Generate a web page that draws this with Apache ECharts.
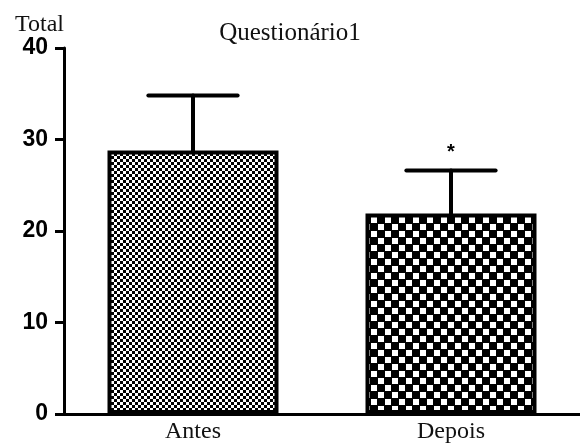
<!DOCTYPE html>
<html>
<head>
<meta charset="utf-8">
<script src="https://cdn.jsdelivr.net/npm/echarts@6/dist/echarts.min.js"></script>
<style>
  html, body { margin: 0; padding: 0; background: #fff; }
  #chart { width: 580px; height: 446px; }
</style>
</head>
<body>
<div id="chart"></div>
<script>
// Questionnaire total score, before and after (mean ± error)
const categories = ['Antes', 'Depois'];
const means = [28.8, 21.9];
const errors = [6.0, 4.7];
const significance = ['', '*'];
const yTicks = { min: 0, max: 40, interval: 10 };

// Checkerboard fill used inside each bar
function checker(period, cell) {
  const c = document.createElement('canvas');
  c.width = period; c.height = period;
  const g = c.getContext('2d');
  g.fillStyle = '#000';
  g.fillRect(0, 0, period, period);
  g.fillStyle = '#fff';
  const h = period / 2;
  g.fillRect(0, 0, cell, cell);
  g.fillRect(h, h, cell, cell);
  return { image: c, repeat: 'repeat' };
}
const fills = [checker(6, 3), checker(14, 6)];

const serif = '"Liberation Serif", "Times New Roman", serif';
const sans = '"Liberation Sans", Arial, sans-serif';

const chart = echarts.init(document.getElementById('chart'), null, { renderer: 'canvas' });

chart.setOption({
  animation: false,
  backgroundColor: '#fff',
  title: {
    text: 'Questionário1',
    left: 'center',
    top: 16,
    textStyle: { fontFamily: serif, fontWeight: 'normal', fontSize: 25, color: '#111' }
  },
  grid: { left: 64, top: 48, width: 519, height: 366, containLabel: false },
  xAxis: {
    type: 'category',
    data: categories,
    axisLine: { lineStyle: { color: '#000', width: 3 } },
    axisTick: { alignWithLabel: true, length: 7, lineStyle: { color: '#000', width: 2 } },
    axisLabel: { fontFamily: serif, fontSize: 24, color: '#111', margin: 6 }
  },
  yAxis: {
    type: 'value',
    min: yTicks.min,
    max: yTicks.max,
    interval: yTicks.interval,
    name: 'Total',
    nameLocation: 'end',
    nameGap: 10,
    nameTextStyle: { fontFamily: serif, fontSize: 24, color: '#111', align: 'right', verticalAlign: 'bottom' },
    splitLine: { show: false },
    axisLine: { show: true, lineStyle: { color: '#000', width: 3 } },
    axisTick: { show: true, length: 9, lineStyle: { color: '#000', width: 3 } },
    axisLabel: { fontFamily: sans, fontWeight: 'bold', fontSize: 23, color: '#000', margin: 16 }
  },
  series: [
    {
      type: 'bar',
      data: means.map((v, i) => ({ value: v, itemStyle: { color: fills[i] } })),
      barWidth: 171,
      itemStyle: { borderColor: '#000', borderWidth: 4 },
      z: 2
    },
    {
      type: 'custom',
      data: means.map((m, i) => [i, m, m + errors[i]]),
      z: 3,
      renderItem: function (params, api) {
        const i = api.value(0);
        const base = api.coord([i, api.value(1)]);
        const top = api.coord([i, api.value(2)]);
        const half = api.size([1, 0])[0] * 0.173;
        const style = { stroke: '#000', lineWidth: 4, lineCap: 'round' };
        const children = [
          { type: 'line', shape: { x1: top[0], y1: base[1], x2: top[0], y2: top[1] }, style: style },
          { type: 'line', shape: { x1: top[0] - half, y1: top[1], x2: top[0] + half, y2: top[1] }, style: style }
        ];
        const mark = significance[i];
        if (mark) {
          children.push({
            type: 'text',
            style: {
              text: mark, x: top[0], y: top[1] - 8,
              fill: '#000', font: 'bold 20px ' + sans,
              textAlign: 'center', textVerticalAlign: 'bottom'
            }
          });
        }
        return { type: 'group', children: children };
      }
    }
  ]
});
</script>
</body>
</html>
